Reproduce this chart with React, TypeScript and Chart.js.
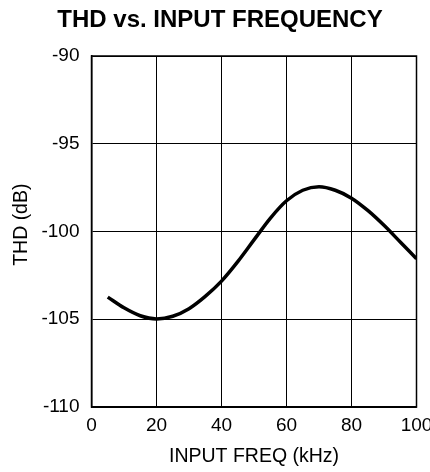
import React, { useEffect, useRef } from "react";
import { Chart, registerables } from "chart.js";

Chart.register(...registerables);

const freqKHz = [5, 10, 15, 20, 25, 30, 35, 40, 45, 50, 55, 60, 65, 70, 75, 80, 85, 90, 95, 100];
const thdDb = [-103.74, -104.35, -104.8, -104.98, -104.83, -104.4, -103.7, -102.83, -101.72, -100.48, -99.25, -98.25, -97.65, -97.45, -97.65, -98.1, -98.8, -99.65, -100.6, -101.55];

const xTicks = [0, 20, 40, 60, 80, 100];
const yTicks = [-110, -105, -100, -95, -90];

const TITLE = "THD vs. INPUT FREQUENCY";
const X_TITLE = "INPUT FREQ (kHz)";
const Y_TITLE = "THD (dB)";

const FONT = "'Liberation Sans', Arial, Helvetica, sans-serif";

export default function App() {
  const ref = useRef<HTMLCanvasElement | null>(null);

  useEffect(() => {
    if (!ref.current) return;
    const chart = new Chart(ref.current, {
      type: "line",
      data: {
        datasets: [
          {
            data: freqKHz.map((f, i) => ({ x: f, y: thdDb[i] })),
            borderColor: "#000",
            borderWidth: 3.5,
            pointRadius: 0,
            cubicInterpolationMode: "monotone",
            fill: false,
          },
        ],
      },
      options: {
        responsive: false,
        animation: false,
        layout: { padding: { left: 0, right: 33.5, top: 56, bottom: 0 } },
        plugins: {
          legend: { display: false },
          tooltip: { enabled: false },
          title: { display: false },
        },
        scales: {
          x: {
            type: "linear",
            min: 0,
            max: 100,
            afterBuildTicks: (s: any) => {
              s.ticks = xTicks.map((v) => ({ value: v }));
            },
            afterFit: (s: any) => {
              s.height = 65;
            },
            ticks: {
              color: "#000",
              font: { family: FONT, size: 19 },
              padding: 7,
              maxRotation: 0,
            },
            grid: { color: "#000", lineWidth: 1, drawTicks: false },
            border: { color: "#000", width: 1.5 },
            title: {
              display: true,
              text: X_TITLE,
              color: "#000",
              font: { family: FONT, size: 19.5 },
              padding: { top: 0, bottom: 4 },
            },
          },
          y: {
            type: "linear",
            min: -110,
            max: -90,
            afterBuildTicks: (s: any) => {
              s.ticks = yTicks.map((v) => ({ value: v }));
            },
            afterFit: (s: any) => {
              s.width = 91.5;
            },
            ticks: {
              color: "#000",
              font: { family: FONT, size: 19 },
              padding: 12,
            },
            grid: { color: "#000", lineWidth: 1, drawTicks: false },
            border: { color: "#000", width: 1.5 },
            title: { display: false },
          },
        },
      },
      plugins: [
        {
          id: "extras",
          afterDraw(c: any) {
            const { ctx, chartArea } = c;
            ctx.save();
            ctx.strokeStyle = "#000";
            ctx.lineWidth = 1.5;
            ctx.strokeRect(chartArea.left, chartArea.top, chartArea.right - chartArea.left, chartArea.bottom - chartArea.top);
            ctx.fillStyle = "#000";
            ctx.textAlign = "center";
            ctx.textBaseline = "alphabetic";
            ctx.font = `bold 24px ${FONT}`;
            ctx.fillText(TITLE, 220, 27.3);
            ctx.translate(27.3, 224.7);
            ctx.rotate(-Math.PI / 2);
            ctx.font = `19.5px ${FONT}`;
            ctx.fillText(Y_TITLE, 0, 0);
            ctx.restore();
          },
        },
      ],
    } as any);
    return () => chart.destroy();
  }, []);

  return (
    <div style={{ position: "absolute", left: 0, top: 0, width: 450, height: 472, background: "#fff" }}>
      <canvas ref={ref} width={450} height={472} style={{ width: 450, height: 472, display: "block" }} />
    </div>
  );
}
